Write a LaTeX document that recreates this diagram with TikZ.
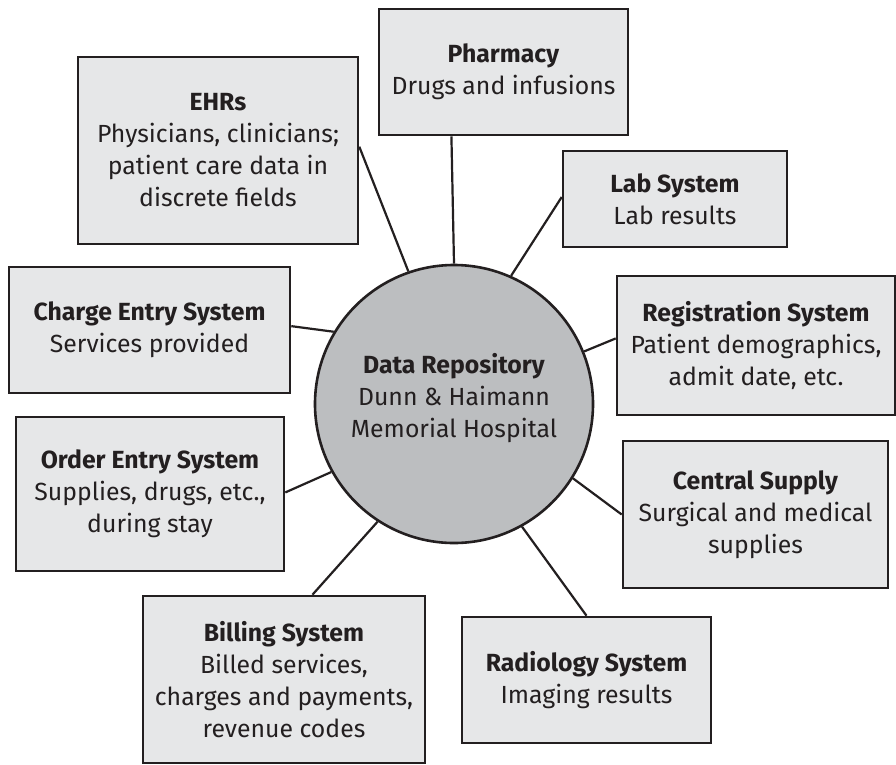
\documentclass[tikz,border=0pt]{standalone}
\usepackage{fontspec}
\setmainfont{Fira Sans}
\usetikzlibrary{calc}
\definecolor{ink}{HTML}{231F20}
\definecolor{boxfill}{HTML}{E6E7E8}
\definecolor{hubfill}{HTML}{BCBEC0}
\tikzset{
  sysbox/.style={draw=ink, fill=boxfill, line width=2.6pt, rectangle, align=center,
    text=ink, inner sep=0pt, font=\fontsize{24.8}{32}\selectfont},
  hub/.style={draw=ink, fill=hubfill, line width=2.6pt, circle, align=center,
    text=ink, inner sep=0pt, minimum size=278pt, font=\fontsize{24.8}{32}\selectfont},
  link/.style={draw=ink, line width=2.2pt}
}
\begin{document}
\begin{tikzpicture}[x=1pt, y=-1pt]
\useasboundingbox (0,0) rectangle (896,764);
\fill[white] (0,0) rectangle (896,764);

\node[hub] (c) at (454,404) {};
\node[text=ink, align=center, inner sep=0pt, font=\fontsize{24.8}{32}\selectfont] (ctext) at (454,398) {\textbf{Data Repository}\\Dunn \& Haimann\\Memorial Hospital};

\node[sysbox, minimum width=249pt, minimum height=126pt] (pharm) at (503.5,72) {\textbf{Pharmacy}\\Drugs and infusions};
\node[sysbox, minimum width=280pt, minimum height=187pt] (ehr) at (218,150.5) {\textbf{EHRs}\\Physicians, clinicians;\\patient care data in\\discrete fields};
\node[sysbox, minimum width=224pt, minimum height=96pt] (lab) at (675,199) {\textbf{Lab System}\\Lab results};
\node[sysbox, minimum width=278pt, minimum height=139pt] (reg) at (756,345.5) {\textbf{Registration System}\\Patient demographics,\\admit date, etc.};
\node[sysbox, minimum width=281pt, minimum height=126pt] (ce) at (149.5,330) {\textbf{Charge Entry System}\\Services provided};
\node[sysbox, minimum width=268pt, minimum height=154pt] (oe) at (150,494) {\textbf{Order Entry System}\\Supplies, drugs, etc.,\\during stay};
\node[sysbox, minimum width=265pt, minimum height=147pt] (cs) at (755.5,514.5) {\textbf{Central Supply}\\Surgical and medical\\supplies};
\node[sysbox, minimum width=249pt, minimum height=126pt] (rad) at (586.5,680) {\textbf{Radiology System}\\Imaging results};
\node[sysbox, minimum width=282pt, minimum height=167pt] (bill) at (284,679.5) {\textbf{Billing System}\\Billed services,\\charges and payments,\\revenue codes};

\draw[link] ($(pharm.south west)!0.293!(pharm.south east)$) -- (c.90.5);
\draw[link] ($(ehr.north east)!0.48!(ehr.south east)$) -- (c.109.6);
\draw[link] ($(lab.north west)!0.48!(lab.south west)$) -- (c.66.9);
\draw[link] ($(reg.north west)!0.45!(reg.south west)$) -- (c.22);
\draw[link] ($(cs.north west)!0.5!(cs.south west)$) -- (c.-32.4);
\draw[link] ($(rad.north west)!0.5!(rad.north east)$) -- (c.-61);
\draw[link] ($(bill.north west)!0.6!(bill.north east)$) -- (c.237.2);
\draw[link] ($(oe.north east)!0.49!(oe.south east)$) -- (c.209.4);
\draw[link] ($(ce.north east)!0.47!(ce.south east)$) -- (c.149.6);
\end{tikzpicture}
\end{document}
